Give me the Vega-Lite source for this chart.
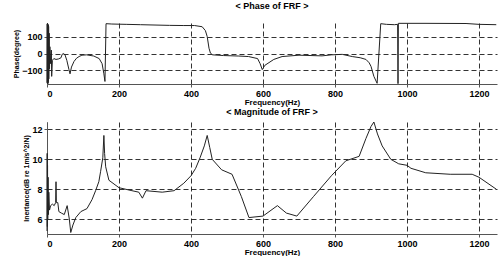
{
  "$schema": "https://vega.github.io/schema/vega-lite/v6.json",
  "padding": {"left": 12, "top": 2, "right": 2, "bottom": 0},
  "background": "white",
  "spacing": 2,
  "config": {
    "font": "Liberation Sans",
    "view": {"stroke": null},
    "title": {"fontSize": 9, "fontWeight": "bold", "color": "black"},
    "axis": {
      "labelFont": "Liberation Sans", "labelFontWeight": "bold", "labelFontSize": 9, "labelColor": "black",
      "titleFont": "Liberation Sans", "titleFontWeight": "bold", "titleColor": "black",
      "domainColor": "#555", "tickColor": "#555", "tickSize": 3,
      "gridColor": "black", "gridDash": [5, 3], "gridWidth": 1, "gridOpacity": 0.8
    }
  },
  "datasets": {
    "phase": [
      {"f": 0, "p": -175}, {"f": 0.5, "p": 175}, {"f": 1, "p": -170}, {"f": 1.5, "p": 178}, {"f": 2, "p": -178},
      {"f": 2.5, "p": 172}, {"f": 3, "p": -176}, {"f": 3.5, "p": 170}, {"f": 4, "p": -165}, {"f": 4.5, "p": 160},
      {"f": 5, "p": -150}, {"f": 6, "p": 120}, {"f": 7, "p": -90}, {"f": 8, "p": 40}, {"f": 10, "p": -60},
      {"f": 12, "p": 20}, {"f": 13, "p": -135}, {"f": 15, "p": -40}, {"f": 19, "p": -30}, {"f": 25, "p": -35},
      {"f": 32, "p": -32}, {"f": 39, "p": -25}, {"f": 42, "p": -5}, {"f": 46, "p": 0}, {"f": 50, "p": -8},
      {"f": 55, "p": -40}, {"f": 61, "p": -95}, {"f": 64, "p": -120}, {"f": 68, "p": -80}, {"f": 75, "p": -47},
      {"f": 82, "p": -28}, {"f": 89, "p": -18}, {"f": 97, "p": -10}, {"f": 110, "p": -8}, {"f": 130, "p": -15},
      {"f": 145, "p": -30}, {"f": 153, "p": -60}, {"f": 158, "p": -120}, {"f": 161, "p": -165}, {"f": 164, "p": 176},
      {"f": 180, "p": 174}, {"f": 220, "p": 172}, {"f": 260, "p": 170}, {"f": 300, "p": 168}, {"f": 340, "p": 166},
      {"f": 380, "p": 165}, {"f": 410, "p": 165}, {"f": 431, "p": 158}, {"f": 440, "p": 135}, {"f": 445, "p": 100},
      {"f": 450, "p": 31}, {"f": 454, "p": 2}, {"f": 460, "p": -8}, {"f": 490, "p": -12}, {"f": 533, "p": -15},
      {"f": 560, "p": -18}, {"f": 585, "p": -30}, {"f": 592, "p": -60}, {"f": 598, "p": -95}, {"f": 605, "p": -70},
      {"f": 630, "p": -35}, {"f": 653, "p": -18}, {"f": 700, "p": -10}, {"f": 764, "p": -14}, {"f": 790, "p": -8},
      {"f": 820, "p": -5}, {"f": 848, "p": -18}, {"f": 870, "p": -25}, {"f": 886, "p": -35}, {"f": 895, "p": -55},
      {"f": 900, "p": -76}, {"f": 908, "p": -135}, {"f": 917, "p": -176}, {"f": 927, "p": 176}, {"f": 943, "p": 172},
      {"f": 965, "p": 170}, {"f": 974, "p": 172}, {"f": 975, "p": -178}, {"f": 976, "p": 178}, {"f": 1050, "p": 178},
      {"f": 1164, "p": 177}, {"f": 1200, "p": 172}, {"f": 1248, "p": 170}
    ],
    "mag": [
      {"f": 0, "v": 5.2}, {"f": 0.5, "v": 10.4}, {"f": 1, "v": 5.5}, {"f": 1.5, "v": 9.6}, {"f": 2, "v": 6.0},
      {"f": 3, "v": 8.8}, {"f": 4, "v": 6.3}, {"f": 5, "v": 7.8}, {"f": 7, "v": 6.6}, {"f": 10, "v": 6.9},
      {"f": 15, "v": 7.0}, {"f": 20, "v": 6.9}, {"f": 24, "v": 7.1}, {"f": 25, "v": 8.5}, {"f": 26, "v": 7.1},
      {"f": 30, "v": 7.1}, {"f": 33, "v": 6.5}, {"f": 40, "v": 6.4}, {"f": 48, "v": 6.3}, {"f": 56, "v": 6.9},
      {"f": 62, "v": 6.0}, {"f": 66, "v": 5.1}, {"f": 72, "v": 5.6}, {"f": 80, "v": 6.1}, {"f": 94, "v": 6.5},
      {"f": 111, "v": 6.7}, {"f": 125, "v": 7.3}, {"f": 135, "v": 7.9}, {"f": 144, "v": 8.5}, {"f": 149, "v": 9.2},
      {"f": 155, "v": 10.1}, {"f": 158, "v": 11.6}, {"f": 160, "v": 10.4}, {"f": 163, "v": 9.5}, {"f": 172, "v": 8.6},
      {"f": 200, "v": 8.1}, {"f": 236, "v": 7.9}, {"f": 255, "v": 7.8}, {"f": 265, "v": 7.4}, {"f": 275, "v": 7.9},
      {"f": 320, "v": 7.8}, {"f": 353, "v": 7.9}, {"f": 380, "v": 8.4}, {"f": 400, "v": 8.9}, {"f": 413, "v": 9.4},
      {"f": 425, "v": 10.1}, {"f": 437, "v": 10.9}, {"f": 445, "v": 11.6}, {"f": 452, "v": 10.8}, {"f": 459, "v": 10.0},
      {"f": 485, "v": 9.3}, {"f": 514, "v": 9.0}, {"f": 540, "v": 7.5}, {"f": 561, "v": 6.1}, {"f": 600, "v": 6.2},
      {"f": 640, "v": 6.9}, {"f": 665, "v": 6.4}, {"f": 694, "v": 6.2}, {"f": 740, "v": 7.5}, {"f": 790, "v": 8.9},
      {"f": 830, "v": 9.9}, {"f": 867, "v": 10.2}, {"f": 886, "v": 11.4}, {"f": 900, "v": 12.2}, {"f": 908, "v": 12.5},
      {"f": 918, "v": 11.7}, {"f": 931, "v": 10.9}, {"f": 955, "v": 10.0}, {"f": 977, "v": 9.7}, {"f": 1000, "v": 9.6},
      {"f": 1011, "v": 9.4}, {"f": 1052, "v": 9.1}, {"f": 1120, "v": 9.0}, {"f": 1181, "v": 9.0}, {"f": 1200, "v": 8.8},
      {"f": 1248, "v": 8.0}
    ]
  },
  "vconcat": [
    {
      "title": {"text": "< Phase of FRF >", "offset": 10},
      "width": 450,
      "height": 61,
      "data": {"name": "phase"},
      "mark": {"type": "line", "color": "#222", "strokeWidth": 1, "interpolate": "linear"},
      "encoding": {
        "x": {"field": "f", "type": "quantitative", "scale": {"domain": [0, 1250], "nice": false},
              "axis": {"values": [0, 200, 400, 600, 800, 1000, 1200], "format": "d", "title": "Frequency(Hz)", "titleFontSize": 8, "titlePadding": 0, "labelPadding": 2}},
        "y": {"field": "p", "type": "quantitative", "scale": {"domain": [-180, 180], "nice": false},
              "axis": {"values": [-100, 0, 100], "title": "Phase(degree)", "titleFontSize": 7, "titlePadding": 2}}
      }
    },
    {
      "title": {"text": "< Magnitude of FRF >", "offset": 3},
      "width": 450,
      "height": 112,
      "data": {"name": "mag"},
      "mark": {"type": "line", "color": "#222", "strokeWidth": 1, "interpolate": "linear"},
      "encoding": {
        "x": {"field": "f", "type": "quantitative", "scale": {"domain": [0, 1250], "nice": false},
              "axis": {"values": [0, 200, 400, 600, 800, 1000, 1200], "format": "d", "title": "Frequency(Hz)", "titleFontSize": 8, "titlePadding": 0, "labelPadding": 2}},
        "y": {"field": "v", "type": "quantitative", "scale": {"domain": [5, 12.5], "nice": false},
              "axis": {"values": [6, 8, 10, 12], "title": "Inertance(dB re 1m/s^2/N)", "titleFontSize": 7, "titlePadding": 2}}
      }
    }
  ]
}
